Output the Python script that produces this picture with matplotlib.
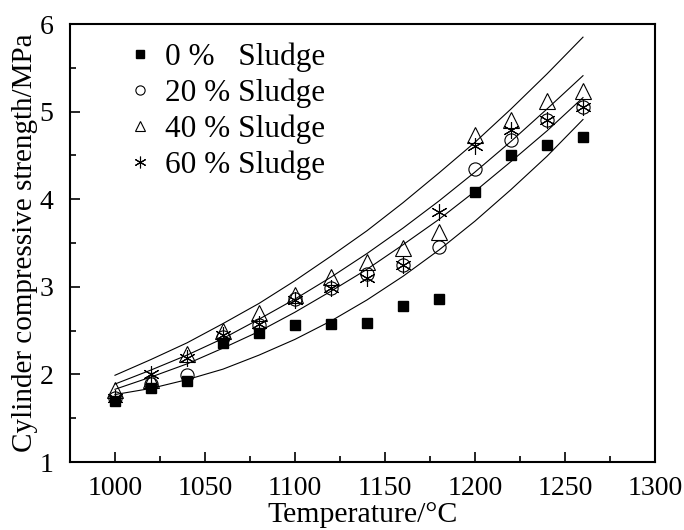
import matplotlib
matplotlib.use('Agg')
import matplotlib.pyplot as plt
from matplotlib.ticker import MultipleLocator

plt.rcParams['font.family'] = ['Liberation Serif', 'DejaVu Serif']

temps = [1000, 1020, 1040, 1060, 1080, 1100, 1120, 1140, 1160, 1180, 1200, 1220, 1240, 1260]

# measured strengths (MPa)
s0 = [1.70, 1.85, 1.92, 2.36, 2.47, 2.56, 2.58, 2.59, 2.78, 2.86, 4.08, 4.51, 4.62, 4.71]
s20 = [1.73, 1.89, 1.99, 2.43, 2.56, 2.86, 2.99, 3.15, 3.25, 3.45, 4.34, 4.68, 4.90, 5.05]
s40 = [1.82, 1.94, 2.23, 2.50, 2.70, 2.91, 3.11, 3.28, 3.44, 3.63, 4.73, 4.90, 5.12, 5.24]
s60 = [1.73, 2.00, 2.19, 2.45, 2.57, 2.85, 2.99, 3.10, 3.25, 3.85, 4.61, 4.79, 4.90, 5.05]

# fitted curves at the same temperatures
fit_a = [1.99, 2.17, 2.36, 2.58, 2.81, 3.07, 3.35, 3.64, 3.96, 4.30, 4.65, 5.03, 5.43, 5.85]
fit_b = [1.89, 2.05, 2.22, 2.41, 2.63, 2.86, 3.11, 3.38, 3.67, 3.98, 4.31, 4.66, 5.03, 5.41]
fit_c = [1.83, 1.97, 2.12, 2.30, 2.49, 2.71, 2.95, 3.20, 3.48, 3.77, 4.09, 4.43, 4.78, 5.16]
fit_d = [1.77, 1.84, 1.94, 2.06, 2.22, 2.40, 2.61, 2.85, 3.12, 3.42, 3.75, 4.11, 4.49, 4.91]

labels = ['0 %   Sludge', '20 % Sludge', '40 % Sludge', '60 % Sludge']

fig = plt.figure(figsize=(6.84, 5.30), dpi=100)
ax = fig.add_axes([0.1023, 0.1283, 0.8553, 0.8264])

for fit in (fit_a, fit_b, fit_c, fit_d):
    ax.plot(temps, fit, color='black', lw=0.8, zorder=2)

ax.plot(temps, s0, ls='none', marker='s', ms=7.5, mfc='black', mec='black',
        label=labels[0], zorder=3)
ax.plot(temps, s20, ls='none', marker='o', ms=9.5, mfc='none', mec='black',
        mew=0.8, label=labels[1], zorder=3)
ax.plot(temps, s40, ls='none', marker='^', ms=11, mfc='none', mec='black',
        mew=0.8, label=labels[2], zorder=3)
ax.plot(temps, s60, ls='none', marker=(6, 2, 0), ms=12, mfc='none', mec='black',
        mew=0.8, label=labels[3], zorder=3)

ax.set_xlim(975, 1300)
ax.set_ylim(1, 6)
ax.xaxis.set_major_locator(MultipleLocator(50))
ax.xaxis.set_minor_locator(MultipleLocator(25))
ax.yaxis.set_major_locator(MultipleLocator(1))
ax.yaxis.set_minor_locator(MultipleLocator(0.5))
ax.tick_params(which='both', direction='in', top=False, right=False,
               labelsize=20, width=1.2)
ax.tick_params(which='major', length=7)
ax.tick_params(which='minor', length=4)
ax.tick_params(axis='x', pad=10)
ax.tick_params(axis='y', pad=12)
for sp in ax.spines.values():
    sp.set_linewidth(1.5)

ax.set_xlabel('Temperature/°C', fontsize=21.5, labelpad=1)
ax.set_ylabel('Cylinder compressive strength/MPa', fontsize=21, labelpad=1)

ax.legend(loc='upper left', frameon=False, fontsize=22.5, markerscale=0.7,
          handlelength=0.8, handletextpad=0.4, labelspacing=0.2,
          borderaxespad=0.2, bbox_to_anchor=(0.066, 1.0))

fig.savefig('out.png', dpi=100)
